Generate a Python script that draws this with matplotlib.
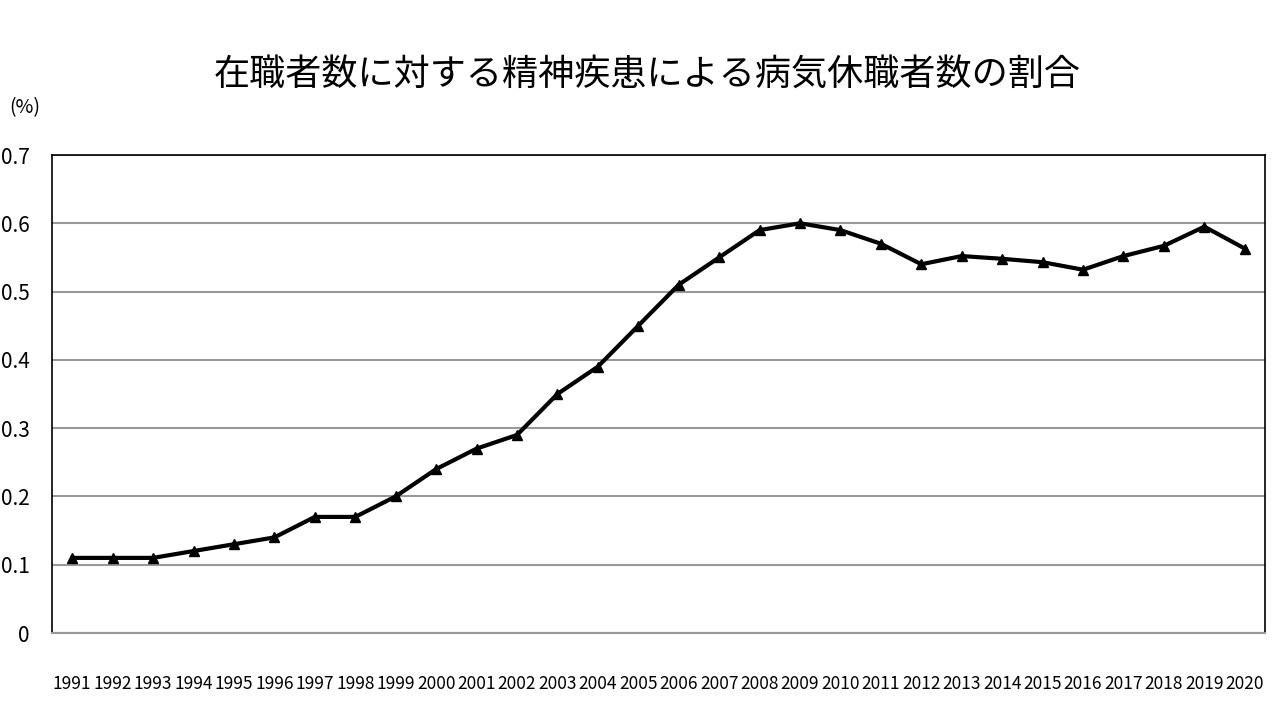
import matplotlib
matplotlib.use("Agg")
import matplotlib.pyplot as plt

years = [str(y) for y in range(1991, 2021)]
values = [0.11, 0.11, 0.11, 0.12, 0.13, 0.14, 0.17, 0.17, 0.20, 0.24,
          0.27, 0.29, 0.35, 0.39, 0.45, 0.51, 0.55, 0.59, 0.60, 0.59,
          0.57, 0.54, 0.552, 0.548, 0.543, 0.532, 0.552, 0.567, 0.595, 0.563]
yticks = [0, 0.1, 0.2, 0.3, 0.4, 0.5, 0.6, 0.7]
ylabels = ["0", "0.1", "0.2", "0.3", "0.4", "0.5", "0.6", "0.7"]

plt.rcParams['font.family'] = ['Noto Sans CJK JP', 'DejaVu Sans']
fig = plt.figure(figsize=(12.8, 7.2), dpi=100)
ax = fig.add_axes([52/1280, 87/720, 1213/1280, 478/720])
x = list(range(len(years)))
ax.plot(x, values, color='black', lw=3, marker='^', markersize=7, zorder=3)
ax.set_xlim(-0.5, len(years) - 0.5)
ax.set_ylim(0, 0.7)
ax.set_yticks(yticks)
ax.set_yticklabels(ylabels, fontsize=15)
ax.set_xticks(x)
ax.set_xticklabels(years, fontsize=12.5)
ax.tick_params(axis='x', length=0, pad=30)
ax.tick_params(axis='y', length=0, pad=16)
ax.grid(axis='y', color='#999999', lw=1.5)
ax.set_axisbelow(True)
for s in ['left', 'top', 'right']:
    ax.spines[s].set_color('black')
    ax.spines[s].set_linewidth(1.2)
ax.spines['bottom'].set_color('#999999')
ax.spines['bottom'].set_linewidth(1.5)
fig.text(647/1280, 1 - 75/720, "在職者数に対する精神疾患による病気休職者数の割合",
         ha='center', va='center', fontsize=26)
fig.text(25/1280, 1 - 108/720, "(%)", ha='center', va='center', fontsize=14)
fig.savefig("out.png", dpi=100, facecolor='white')
